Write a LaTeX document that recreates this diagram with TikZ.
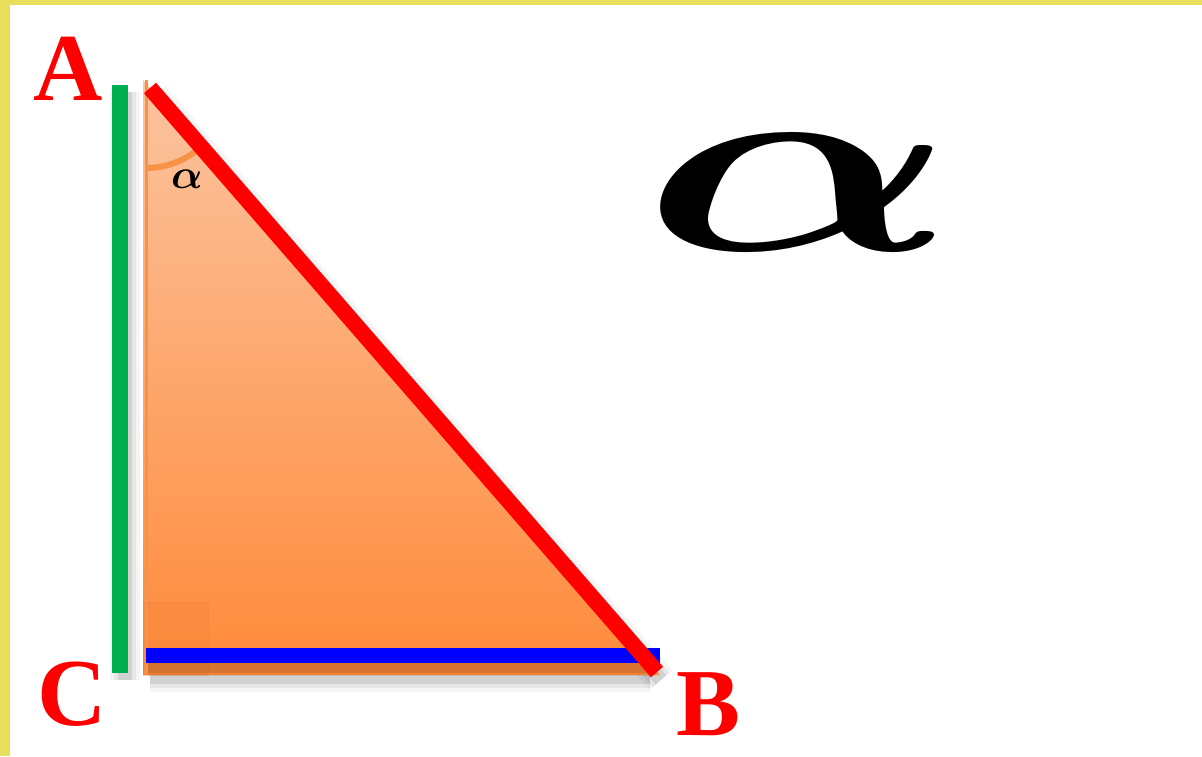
\documentclass[tikz,border=0pt]{standalone}
\usepackage{fontspec}
\setmainfont{Liberation Serif}
\usepackage{bm}
\usetikzlibrary{angles}
\definecolor{frameyellow}{RGB}{233,221,92}
\definecolor{peach}{RGB}{251,196,160}
\definecolor{deeporange}{RGB}{255,138,58}
\definecolor{sqorange}{RGB}{230,120,50}
\definecolor{arcorange}{RGB}{247,146,70}
\definecolor{greenside}{RGB}{0,176,80}
\definecolor{blueside}{RGB}{0,0,255}
\definecolor{redside}{RGB}{255,0,0}
\tikzset{
  vlabel/.style={text=redside, font=\fontsize{48}{48}\selectfont\bfseries, inner sep=0pt},
}
\begin{document}
\begin{tikzpicture}[x=0.5pt,y=-0.5pt]
\useasboundingbox (0,0) rectangle (1202,756);
\fill[white] (0,0) rectangle (1202,756);
% frame
\fill[frameyellow] (0,0) rectangle (1202,5);
\fill[frameyellow] (0,0) rectangle (10,756);
% vertices
\coordinate (A) at (146,86);
\coordinate (C) at (146,673);
\coordinate (B) at (660,673);
\coordinate (G1) at (120,85);
\coordinate (G2) at (120,673);
\coordinate (R1) at (150,88);
\coordinate (R2) at (657,672);
\coordinate (U1) at (146,655.5);
\coordinate (U2) at (660,655.5);
% shadows behind the triangle
\foreach \w/\o in {30/0.04,22/0.06,14/0.09}{
  \draw[draw=black, opacity=\o, line width=\w*0.5pt] ([shift={(5,7)}]G1) -- ([shift={(5,7)}]G2);
  \draw[draw=black, opacity=\o, line width=\w*0.5pt] ([shift={(4,8)}]R1) -- ([shift={(4,8)}]R2);
  \draw[draw=black, opacity=\o, line width=\w*0.5pt] (150,677) -- (650,677);
}
% triangle fill
\shade[top color=peach, bottom color=deeporange] (143,80) -- (143,675) -- (660,675) -- cycle;
% right angle square
\filldraw[fill=sqorange, fill opacity=0.18, draw=sqorange, draw opacity=0.25, line width=0.5pt] (143,602) rectangle (208,675);
% blue-line shadow over the fill
\foreach \w/\o in {18/0.06,12/0.10}{
  \draw[draw=black, opacity=\o, line width=\w*0.5pt] (148,667) -- (655,667);
}
% thin left edge
\draw[draw=arcorange, line width=1.5pt] (146,80) -- (C);
% angle arc
\pic[draw=arcorange, line width=3pt, angle radius=41pt] {angle = C--A--B};
% sides
\draw[draw=greenside, line width=8pt] (G1) -- (G2);
\draw[draw=blueside, line width=7.5pt] (U1) -- (U2);
\draw[draw=redside, line width=8pt] (R1) -- (R2);
% labels
\node[vlabel] (LA) at (68,69) {A};
\node[vlabel] (LC) at (72,694) {C};
\node[vlabel] (LB) at (709,704) {B};
\node[inner sep=0pt] (alpha) at (187,179) {\fontsize{21}{21}\selectfont$\bm{\alpha}$};
\node[inner sep=0pt] (bigalpha) at (800,192) {\resizebox{158pt}{58pt}{$\bm{\alpha}$}};
\end{tikzpicture}
\end{document}
